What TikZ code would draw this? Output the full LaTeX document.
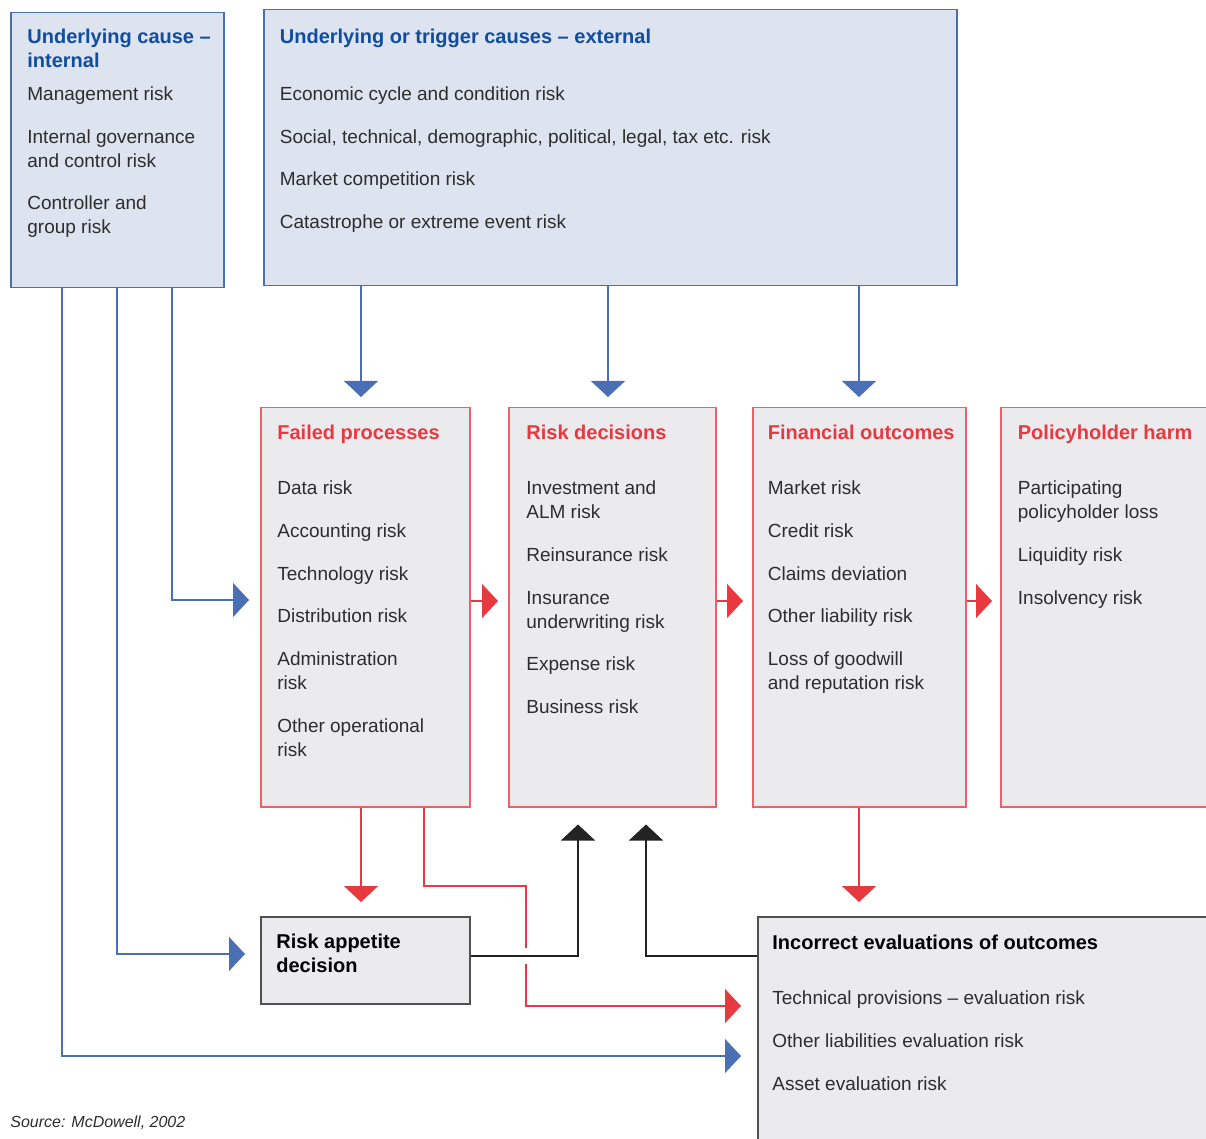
\documentclass[tikz,border=0pt]{standalone}
\usepackage{fontspec}
\setmainfont{Liberation Sans}
\usepackage{tikz}
\usetikzlibrary{arrows.meta, positioning, calc}

\definecolor{rkblue}{RGB}{74,111,181}
\definecolor{rkred}{RGB}{232,56,64}
\definecolor{rkpink}{RGB}{236,96,102}
\definecolor{bluefill}{RGB}{221,227,239}
\definecolor{greyfill}{RGB}{235,235,238}
\definecolor{headblue}{RGB}{16,77,160}
\definecolor{bodytext}{RGB}{45,45,45}
\definecolor{darkline}{RGB}{80,80,80}
\definecolor{blackline}{RGB}{35,35,35}

\newcommand{\headtxt}[2]{{\color{#1}\fontsize{10}{12}\selectfont\bfseries #2}}

\tikzset{
  riskbox/.style={draw, line width=0.75pt, anchor=north west, inner sep=0pt},
  causebox/.style={riskbox, draw=rkblue, fill=bluefill},
  chainbox/.style={riskbox, draw=rkpink, fill=greyfill, minimum height=199.5pt},
  evalbox/.style={riskbox, draw=darkline, fill=greyfill},
  boxtext/.style={anchor=north west, inner sep=0pt, align=left, text=bodytext,
    font=\fontsize{9.5}{12}\selectfont},
  link/.style={line width=0.75pt, -{Triangle[width=17pt, length=8pt]}},
  bluelink/.style={link, draw=rkblue},
  redlink/.style={link, draw=rkred},
  blacklink/.style={link, draw=blackline},
}

\begin{document}
\begin{tikzpicture}[x=0.5pt, y=-0.5pt]
  \useasboundingbox (0,0) rectangle (1206,1139);
  \clip (0,0) rectangle (1206,1139);

  % Causes
  \node[causebox, minimum width=106.5pt, minimum height=137.5pt] (intl) at (10,12) {};
  \node[boxtext] (intl-txt) at ($(intl.north west)+(17,14.2)$) {%
    \strut\headtxt{headblue}{Underlying cause --}\\
    \headtxt{headblue}{internal}\\[4.5pt]
    Management risk\\[9.4pt]
    Internal governance\\and control risk\\[9.4pt]
    Controller and\\group risk};

  \node[causebox, minimum width=346.5pt, minimum height=138pt] (extl) at (263,9) {};
  \node[boxtext] (extl-txt) at ($(extl.north west)+(16.5,17.2)$) {%
    \strut\headtxt{headblue}{Underlying or trigger causes -- external}\\[16.5pt]
    Economic cycle and condition risk\\[9.4pt]
    Social, technical, demographic, political, legal, tax etc. risk\\[9.4pt]
    Market competition risk\\[9.4pt]
    Catastrophe or extreme event risk};

  % Risk chain
  \node[chainbox, minimum width=104.5pt] (failed) at (260,407) {};
  \node[boxtext] (failed-txt) at ($(failed.north west)+(17,15.2)$) {%
    \strut\headtxt{rkred}{Failed processes}\\[15.5pt]
    Data risk\\[9.4pt]
    Accounting risk\\[9.4pt]
    Technology risk\\[9.4pt]
    Distribution risk\\[9.4pt]
    Administration\\risk\\[9.4pt]
    Other operational\\risk};

  \node[chainbox, minimum width=103.5pt] (decide) at (508,407) {};
  \node[boxtext] (decide-txt) at ($(decide.north west)+(18,15.2)$) {%
    \strut\headtxt{rkred}{Risk decisions}\\[15.5pt]
    Investment and\\ALM risk\\[9.4pt]
    Reinsurance risk\\[9.4pt]
    Insurance\\underwriting risk\\[9.4pt]
    Expense risk\\[9.4pt]
    Business risk};

  \node[chainbox, minimum width=106.5pt] (financial) at (752,407) {};
  \node[boxtext] (financial-txt) at ($(financial.north west)+(15.5,15.2)$) {%
    \strut\headtxt{rkred}{Financial outcomes}\\[15.5pt]
    Market risk\\[9.4pt]
    Credit risk\\[9.4pt]
    Claims deviation\\[9.4pt]
    Other liability risk\\[9.4pt]
    Loss of goodwill\\and reputation risk};

  \node[chainbox, minimum width=110pt] (harm) at (1000,407) {};
  \node[boxtext] (harm-txt) at ($(harm.north west)+(17.5,15.2)$) {%
    \strut\headtxt{rkred}{Policyholder harm}\\[15.5pt]
    Participating\\policyholder loss\\[9.4pt]
    Liquidity risk\\[9.4pt]
    Insolvency risk};

  % Evaluation
  \node[evalbox, minimum width=104.5pt, minimum height=43.5pt] (appetite) at (260,916) {};
  \node[boxtext] (appetite-txt) at ($(appetite.north west)+(16,15.2)$) {%
    \strut\headtxt{black}{Risk appetite}\\
    \headtxt{black}{decision}};

  \node[evalbox, minimum width=230pt, minimum height=120pt] (incorrect) at (757,916) {};
  \node[boxtext] (incorrect-txt) at ($(incorrect.north west)+(15,16.2)$) {%
    \strut\headtxt{black}{Incorrect evaluations of outcomes}\\[15.5pt]
    Technical provisions -- evaluation risk\\[9.4pt]
    Other liabilities evaluation risk\\[9.4pt]
    Asset evaluation risk};

  % Blue links
  \draw[bluelink, shorten >=5pt] (extl.south -| 361,0) -- (failed.north -| 361,0);
  \draw[bluelink, shorten >=5pt] (extl.south -| 608,0) -- (decide.north -| 608,0);
  \draw[bluelink, shorten >=5pt] (extl.south -| 859,0) -- (financial.north -| 859,0);
  \draw[bluelink, shorten >=5.5pt] (intl.south -| 172,0) |- (failed.west |- 0,600);
  \draw[bluelink, shorten >=7.5pt] (intl.south -| 117,0) |- (appetite.west |- 0,954);
  \draw[bluelink, shorten >=8pt] (intl.south -| 62,0) |- (incorrect.west |- 0,1056);

  % Red links
  \draw[redlink, shorten >=5pt] (failed.east |- 0,601) -- (decide.west |- 0,601);
  \draw[redlink, shorten >=4.5pt] (decide.east |- 0,601) -- (financial.west |- 0,601);
  \draw[redlink, shorten >=4pt] (financial.east |- 0,601) -- (harm.west |- 0,601);
  \draw[redlink, shorten >=7pt] (failed.south -| 361,0) -- (appetite.north -| 361,0);
  \draw[redlink, shorten >=7pt] (financial.south -| 859,0) -- (incorrect.north -| 859,0);
  \draw[redlink, shorten >=8pt] (failed.south -| 424,0) |- (526,886) |- (incorrect.west |- 0,1006);

  % Gap where the black link crosses
  \coordinate (hop) at (526,956);
  \fill[white] ($(hop)+(-3,-8)$) rectangle ($(hop)+(3,8)$);

  % Black links
  \draw[blacklink, shorten >=8.5pt] (appetite.east |- 0,956) -| (decide.south -| 578,0);
  \draw[blacklink, shorten >=8.5pt] (incorrect.west |- 0,956) -| (decide.south -| 646,0);

  \node[anchor=base west, inner sep=0pt, text=bodytext,
    font=\fontsize{8}{10}\selectfont\itshape] (source) at (10,1127) {Source: McDowell, 2002};
\end{tikzpicture}
\end{document}
